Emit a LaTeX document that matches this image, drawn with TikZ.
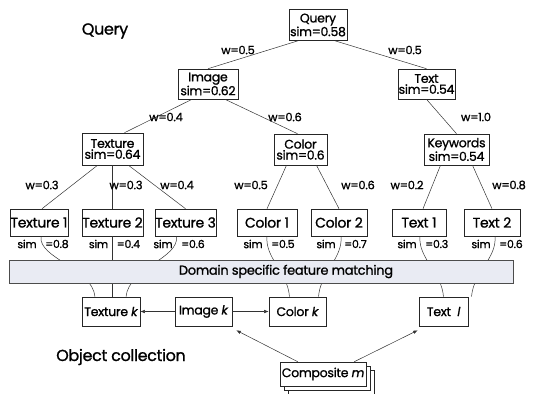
\documentclass[tikz,border=0pt]{standalone}
\usepackage{fontspec}
\setmainfont{Poppins}[FakeBold=1.1, LetterSpace=-2]
\usetikzlibrary{calc,shadows,arrows.meta}
\definecolor{barfill}{RGB}{233,235,243}

\begin{document}
\begin{tikzpicture}[x=1bp,y=-1bp,
  line width=0.6pt,
  box/.style={draw=black!85, fill=white, inner sep=0pt, align=center},
  twoline/.style={box, font=\fontsize{12.5}{11}\selectfont},
  leaf/.style={box, minimum height=27bp, font=\fontsize{14}{14}\selectfont},
  objbox/.style={box, minimum height=29bp, font=\fontsize{12.5}{13}\selectfont},
  wlbl/.style={inner sep=0pt, font=\fontsize{11.5}{12}\selectfont},
  simlbl/.style={inner sep=0pt, font=\fontsize{11}{12}\selectfont},
  big/.style={inner sep=0pt, font=\fontsize{16}{17}\selectfont},
  edge/.style={draw=black!80, line width=0.5pt},
  arr/.style={edge, -{Latex[length=4.5bp,width=3.5bp]}}
]
\useasboundingbox (0,0) rectangle (533,393);

% free captions
\node[big] (qcap) at (105,31) {Query};
\node[big] (ocap) at (121,357) {Object collection};

% query tree
\node[twoline, minimum width=58bp, minimum height=31bp] (query) at (318,25) {Query\\sim=0.58};
\node[twoline, minimum width=60bp, minimum height=30bp] (image) at (208,84) {Image\\sim=0.62};
\node[twoline, minimum width=57bp, minimum height=30bp] (text) at (426.5,84) {Text\\sim=0.54};
\node[twoline, minimum width=61bp, minimum height=32bp] (texture) at (112.5,149) {Texture\\sim=0.64};
\node[twoline, minimum width=53bp, minimum height=31bp] (color) at (300.5,149.5) {Color\\sim=0.6};
\node[twoline, minimum width=65bp, minimum height=31bp] (keywords) at (456.5,149.5) {Keywords\\sim=0.54};

% leaf features
\node[leaf, minimum width=58bp] (tex1) at (39,222.5) {Texture 1};
\node[leaf, minimum width=61bp] (tex2) at (112.5,222.5) {Texture 2};
\node[leaf, minimum width=59bp] (tex3) at (185.5,222.5) {Texture 3};
\node[leaf, minimum width=60bp] (col1) at (267,222.5) {Color 1};
\node[leaf, minimum width=56bp] (col2) at (339,222.5) {Color 2};
\node[leaf, minimum width=54bp] (txt1) at (419,222.5) {Text 1};
\node[leaf, minimum width=56bp] (txt2) at (492,222.5) {Text 2};

% stored objects
\node[objbox, minimum width=58bp] (texk) at (111,311.5) {Texture \textit{k}};
\node[objbox, minimum width=57bp] (imgk) at (203.5,311.5) {Image \textit{k}};
\node[objbox, minimum width=57bp] (colk) at (297.5,311.5) {Color \textit{k}};
\node[objbox, minimum width=49bp] (txtl) at (443.5,311.5) {Text\enspace\textit{l}};
\node[objbox, minimum width=86bp, minimum height=24bp,
  double copy shadow={shadow xshift=4bp, shadow yshift=-4bp, draw=black!85, fill=white}]
  (comp) at (323,374) {Composite \textit{m}};

% tree edges
\draw[edge] ($(query.south)+(-20,0)$) -- (image.north);
\draw[edge] ($(query.south)+(17,0)$) -- (text.north);
\draw[edge] ($(image.south)+(-16,0)$) -- ($(texture.north)+(12,0)$);
\draw[edge] ($(image.south)+(17,0)$) -- ($(color.north)+(-3,0)$);
\draw[edge] (text.south) -- (keywords.north);
\draw[edge] ($(texture.south)+(-15,0)$) -- ($(tex1.north)+(3,0)$);
\draw[edge] (texture.south) -- (tex2.north);
\draw[edge] ($(texture.south)+(16,0)$) -- (tex3.north);
\draw[edge] ($(color.south)+(-14,0)$) -- (col1.north);
\draw[edge] ($(color.south)+(16,0)$) -- (col2.north);
\draw[edge] ($(keywords.south)+(-16,0)$) -- ($(txt1.north)+(4,0)$);
\draw[edge] ($(keywords.south)+(16,0)$) -- (txt2.north);

% weights
\node[wlbl] (w1) at (238,50) {w=0.5};
\node[wlbl] (w2) at (405,50) {w=0.5};
\node[wlbl] (w3) at (166,117) {w=0.4};
\node[wlbl] (w4) at (285,117) {w=0.6};
\node[wlbl] (w5) at (476,117) {w=1.0};
\node[wlbl] (w6) at (42,185) {w=0.3};
\node[wlbl] (w7) at (126,185) {w=0.3};
\node[wlbl] (w8) at (177,185) {w=0.4};
\node[wlbl] (w9) at (251,185) {w=0.5};
\node[wlbl] (w10) at (358,185) {w=0.6};
\node[wlbl] (w11) at (407,185) {w=0.2};
\node[wlbl] (w12) at (509,185) {w=0.8};

% links from each feature to its stored object (pass behind the matching bar)
\draw[edge] ($(tex1.south)+(2,0)$) .. controls +(-3,22) and +(-3,-29) .. ($(texk.north)+(-16,0)$);
\draw[edge] (tex2.south) -- (tex2.south |- texk.north);
\draw[edge] ($(tex3.south)+(-9,0)$) .. controls +(3,22) and +(3,-29) .. ($(texk.north)+(15,0)$);
\draw[edge] (col1.south) .. controls +(-2,22) and +(-2,-25) .. ($(colk.north)+(-8,0)$);
\draw[edge] ($(col2.south)+(2,0)$) .. controls +(2,22) and +(2,-25) .. ($(colk.north)+(21,0)$);
\draw[edge] ($(txt1.south)+(1,0)$) .. controls +(-2,22) and +(-2,-25) .. ($(txtl.north)+(0,0)$);
\draw[edge] ($(txt2.south)+(3,0)$) .. controls +(2,22) and +(2,-25) .. ($(txtl.north)+(28,0)$);

% similarity values
\foreach \n/\x/\v in {1/41/0.8, 2/112.5/0.4, 3/177/0.6, 4/267/0.5, 5/340/0.7, 6/421/0.3, 7/495/0.6}{
  \node[simlbl, anchor=east] (sa\n) at (\x-4,244) {sim};
  \node[simlbl, anchor=west] (sb\n) at (\x+4,244) {=\v};
}

% matching layer
\node[box, draw=black!70, fill=barfill, minimum width=504bp, minimum height=23bp,
  font=\fontsize{13}{13}\selectfont] (bar) at (261,271.5)
  {\hspace*{50bp}Domain specific feature matching};

% object links
\draw[arr] (imgk.west) -- (texk.east);
\draw[arr] (imgk.east) -- (colk.west);
\draw[arr] ($(comp.north west)+(18,0)$) -- ($(imgk.south east)+(4,4)$);
\draw[arr] ($(comp.north east)+(-12,0)$) -- ($(txtl.south west)+(-1,4)$);
\end{tikzpicture}
\end{document}
